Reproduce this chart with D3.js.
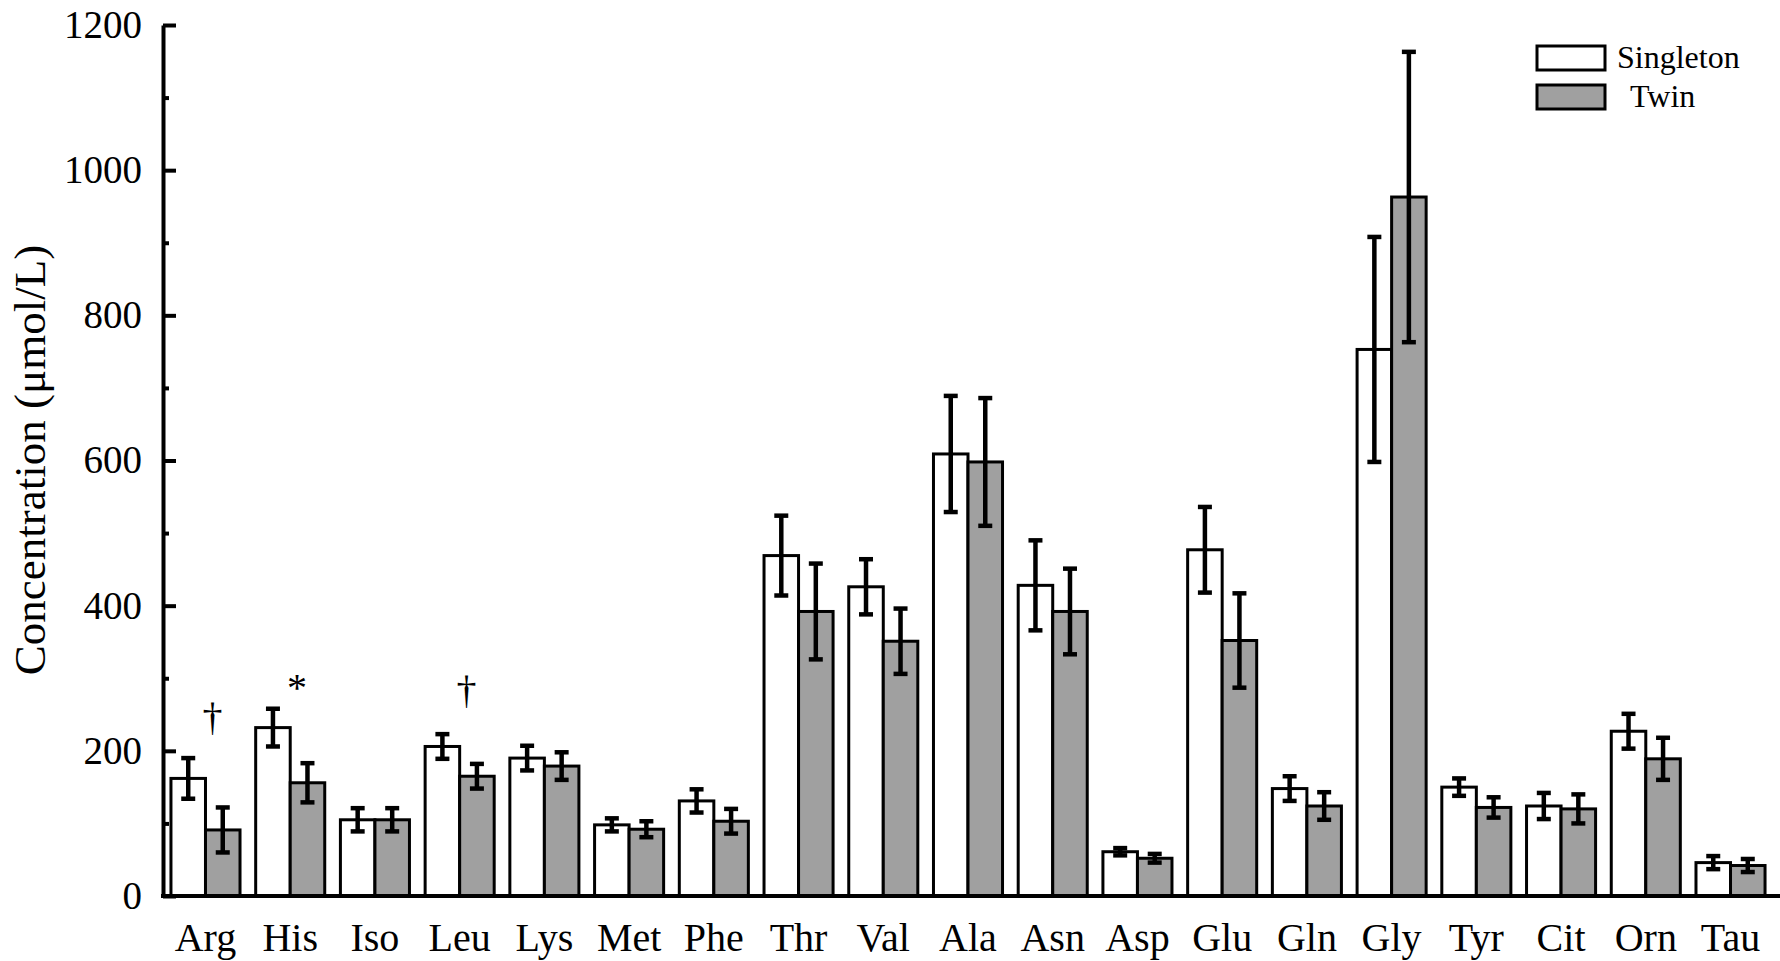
<!DOCTYPE html>
<html>
<head>
<meta charset="utf-8">
<script src="https://cdn.jsdelivr.net/npm/d3@7"></script>
<style>
  body { margin: 0; background: #fff; }
  svg text { font-family: "Liberation Serif", "Times New Roman", serif; fill: #000; }
</style>
</head>
<body>
<svg id="chart" width="1780" height="961"></svg>
<script>
// amino acids on the x axis
const aminoAcids = ['Arg', 'His', 'Iso', 'Leu', 'Lys', 'Met', 'Phe', 'Thr', 'Val', 'Ala',
  'Asn', 'Asp', 'Glu', 'Gln', 'Gly', 'Tyr', 'Cit', 'Orn', 'Tau'];
const groups = ['Singleton', 'Twin'];

// mean concentrations (umol/L) and their error bars
const singletonMean = [162, 232, 105, 206, 190, 98, 131, 469, 426, 609, 428, 61, 477, 148, 753, 150, 124, 227, 46];
const singletonErr = [28, 26, 16, 17, 17, 9, 16, 55, 38, 80, 62, 5, 59, 17, 155, 12, 18, 24, 9];
const twinMean = [91, 156, 105, 165, 179, 92, 103, 392, 351, 598, 392, 52, 352, 124, 963, 122, 120, 189, 42];
const twinErr = [31, 27, 16, 17, 19, 11, 17, 66, 45, 88, 59, 6, 65, 19, 200, 14, 20, 29, 9];

// significance marks (symbol, value where its baseline sits)
const markCats = ['Arg', 'His', 'Leu'];
const markSymbols = ['\u2020', '*', '\u2020'];
const markValues = [229, 268, 266];

const yTicks = [0, 200, 400, 600, 800, 1000, 1200];
const yMinorTicks = [100, 300, 500, 700, 900, 1100];

const svg = d3.select('#chart');
const left = 163;
const bottom = 896;
const serif = '"Liberation Serif", "Times New Roman", serif';

const x0 = d3.scaleBand()
  .domain(aminoAcids)
  .range([left, 1773])
  .paddingInner(0.185)
  .paddingOuter(0.094);
const x1 = d3.scaleBand().domain(groups).range([0, x0.bandwidth()]);
const y = d3.scaleLinear().domain([0, 1200]).range([bottom, 25]);
const fill = d3.scaleOrdinal().domain(groups).range(['#ffffff', '#a0a0a0']);

const rows = aminoAcids.map((a, i) => ({
  name: a,
  values: [
    { key: 'Singleton', mean: singletonMean[i], err: singletonErr[i] },
    { key: 'Twin', mean: twinMean[i], err: twinErr[i] },
  ],
}));

const g = svg.selectAll('.group')
  .data(rows)
  .enter()
  .append('g')
  .attr('class', 'group')
  .attr('transform', d => `translate(${x0(d.name)},0)`);

g.selectAll('rect')
  .data(d => d.values)
  .enter()
  .append('rect')
  .attr('x', d => x1(d.key))
  .attr('y', d => y(d.mean))
  .attr('width', x1.bandwidth())
  .attr('height', d => y(0) - y(d.mean))
  .attr('fill', d => fill(d.key))
  .attr('stroke', '#000')
  .attr('stroke-width', 3);

// error bars on top of all bars
const eb = svg.selectAll('.errbars')
  .data(rows)
  .enter()
  .append('g')
  .attr('transform', d => `translate(${x0(d.name)},0)`)
  .selectAll('g')
  .data(d => d.values)
  .enter()
  .append('g')
  .attr('stroke', '#000')
  .attr('stroke-width', 4.5);
const cx = d => x1(d.key) + x1.bandwidth() / 2;
eb.append('line')
  .attr('x1', cx).attr('x2', cx)
  .attr('y1', d => y(d.mean + d.err)).attr('y2', d => y(d.mean - d.err));
eb.append('line')
  .attr('x1', d => cx(d) - 7).attr('x2', d => cx(d) + 7)
  .attr('y1', d => y(d.mean + d.err)).attr('y2', d => y(d.mean + d.err));
eb.append('line')
  .attr('x1', d => cx(d) - 7).attr('x2', d => cx(d) + 7)
  .attr('y1', d => y(d.mean - d.err)).attr('y2', d => y(d.mean - d.err));

// y axis, ticks pointing inward
const yAxis = svg.append('g')
  .attr('transform', `translate(${left},0)`)
  .call(d3.axisLeft(y).tickValues(yTicks).tickFormat(d3.format('d'))
    .tickSize(-13).tickSizeOuter(0).tickPadding(21))
  .attr('font-family', serif);
yAxis.select('.domain').attr('stroke-width', 4);
yAxis.selectAll('.tick line').attr('stroke-width', 4);
yAxis.selectAll('.tick text')
  .style('font-size', '39px')
  .style('font-family', serif);

const yMinor = svg.append('g')
  .attr('transform', `translate(${left},0)`)
  .call(d3.axisLeft(y).tickValues(yMinorTicks).tickSize(-6).tickFormat(''));
yMinor.select('.domain').remove();
yMinor.selectAll('.tick line').attr('stroke-width', 4);

// x axis line + labels
svg.append('line')
  .attr('x1', left - 2).attr('x2', 1780)
  .attr('y1', bottom).attr('y2', bottom)
  .attr('stroke', '#000')
  .attr('stroke-width', 4);

svg.selectAll('.xlabel')
  .data(aminoAcids)
  .enter()
  .append('text')
  .attr('x', d => x0(d) + x0.bandwidth() / 2)
  .attr('y', 951)
  .attr('text-anchor', 'middle')
  .style('font-size', '40px')
  .text(d => d);

svg.append('text')
  .attr('transform', `translate(45,${460}) rotate(-90)`)
  .attr('text-anchor', 'middle')
  .style('font-size', '45px')
  .style('font-family', serif)
  .text('Concentration (\u03bcmol/L)');

// significance marks
svg.selectAll('.mark')
  .data(markCats)
  .enter()
  .append('text')
  .attr('x', d => x0(d) + x0.bandwidth() * 0.6)
  .attr('y', (d, i) => y(markValues[i]))
  .attr('text-anchor', 'middle')
  .style('font-size', '40px')
  .text((d, i) => markSymbols[i]);

// legend
const legend = svg.append('g').attr('transform', 'translate(1537,46)');
const li = legend.selectAll('g')
  .data(groups)
  .enter()
  .append('g')
  .attr('transform', (d, i) => `translate(0,${i * 39})`);
li.append('rect')
  .attr('width', 68)
  .attr('height', 24)
  .attr('fill', d => fill(d))
  .attr('stroke', '#000')
  .attr('stroke-width', 3);
li.append('text')
  .attr('x', (d, i) => (i === 0 ? 80 : 93))
  .attr('y', 22)
  .style('font-size', '32px')
  .text(d => d);
</script>
</body>
</html>
